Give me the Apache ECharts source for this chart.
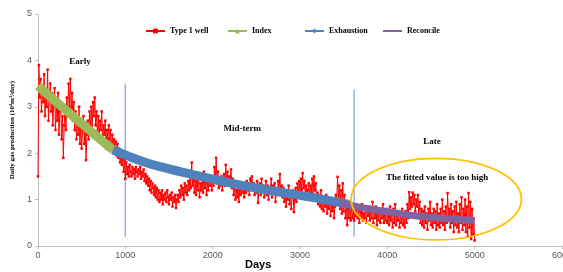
<!DOCTYPE html>
<html>
<head>
<meta charset="utf-8">
<script src="https://cdn.jsdelivr.net/npm/echarts@6/dist/echarts.min.js"></script>
<style>
  html, body { margin: 0; padding: 0; background: #fff; }
  #chart { width: 563px; height: 272px; }
</style>
</head>
<body>
<div id="chart"></div>
<script>
// daily gas rate of the type 1 well, read every 10 days (one row = 200 days)
const wellStep = 10;
const wellRate = [
  1.5, 3.9, 3.2, 3.6, 2.9, 3.4, 3.1, 3.7, 2.8, 3.3, 3.0, 3.8, 2.7, 3.2, 3.5, 2.9, 3.3, 2.6, 3.1, 3.4,
  2.5, 3.0, 2.7, 3.3, 2.4, 2.9, 3.1, 2.3, 2.8, 1.9, 2.6, 3.0, 2.5, 3.2, 2.8, 3.5, 3.0, 3.6, 2.9, 3.3,
  2.7, 3.1, 2.5, 2.9, 2.3, 2.8, 2.4, 3.0, 2.2, 2.6, 2.1, 2.5, 2.8, 2.2, 2.6, 1.85, 2.4, 2.7, 2.3, 2.9,
  2.6, 3.0, 2.5, 3.1, 2.8, 3.2, 2.6, 2.9, 2.4, 2.8, 2.3, 2.7, 2.5, 2.9, 2.2, 2.6, 2.4, 2.7, 2.1, 2.5,
  2.3, 2.6, 2.2, 2.5, 2.1, 2.4, 2.0, 2.3, 2.1, 2.25, 1.95, 2.2, 1.9, 2.1, 1.8, 2.0, 1.75, 1.9, 1.6, 1.85,
  1.45, 1.8, 1.55, 1.7, 1.5, 1.75, 1.6, 1.5, 1.7, 1.55, 1.65, 1.45, 1.7, 1.6, 1.5, 1.65, 1.55, 1.7, 1.45, 1.6,
  1.5, 1.65, 1.4, 1.55, 1.35, 1.5, 1.3, 1.45, 1.2, 1.4, 1.15, 1.35, 1.25, 1.1, 1.3, 1.05, 1.25, 1.0, 1.2, 0.95,
  1.15, 1.0, 1.2, 0.9, 1.1, 1.0, 1.15, 0.95, 1.2, 1.05, 0.9, 1.1, 1.0, 1.15, 0.85, 1.05, 0.95, 1.1, 0.82, 1.0,
  1.1, 0.95, 1.2, 1.05, 1.3, 1.1, 1.25, 1.0, 1.35, 1.15, 1.3, 1.1, 1.4, 1.2, 1.5, 1.25, 1.8, 1.3, 1.45, 1.15,
  1.4, 1.1, 1.55, 1.2, 1.45, 1.05, 1.35, 1.2, 1.5, 1.15, 1.6, 1.25, 1.45, 1.1, 1.35, 1.2, 1.5, 1.3, 1.4, 1.2,
  1.5, 1.3, 1.7, 1.4, 1.9, 1.35, 1.6, 1.25, 1.45, 1.3, 1.5, 1.2, 1.4, 1.55, 1.3, 1.75, 1.4, 1.6, 1.3, 1.5,
  1.35, 1.65, 1.25, 1.45, 1.1, 1.3, 1.0, 1.2, 1.05, 1.3, 0.95, 1.2, 1.1, 1.35, 1.15, 1.3, 1.05, 1.25, 1.15, 1.4,
  1.2, 1.35, 1.1, 1.45, 1.25, 1.5, 1.2, 1.35, 1.1, 1.3, 1.15, 1.4, 0.93, 1.2, 1.35, 1.1, 1.45, 1.2, 1.3, 1.05,
  1.25, 1.4, 1.1, 1.3, 1.0, 1.25, 1.15, 1.45, 1.05, 1.3, 1.15, 1.35, 0.95, 1.2, 1.1, 1.4, 1.2, 1.55, 1.1, 1.3,
  1.05, 1.25, 0.95, 1.2, 0.85, 1.1, 1.0, 1.3, 0.9, 1.15, 0.8, 1.05, 1.2, 0.73, 1.0, 1.25, 0.95, 1.35, 1.1, 1.4,
  1.15, 1.45, 1.2, 1.57, 1.25, 1.4, 1.1, 1.3, 1.0, 1.2, 1.35, 1.05, 1.3, 1.15, 1.45, 1.1, 1.5, 1.2, 1.35, 1.0,
  1.15, 0.9, 1.1, 0.85, 1.2, 0.8, 1.0, 0.75, 1.05, 0.85, 1.1, 0.7, 0.95, 0.8, 1.0, 0.65, 0.9, 0.75, 1.0, 0.6,
  0.85, 1.1, 0.9, 1.49, 1.0, 1.3, 0.8, 1.2, 0.7, 1.35, 0.75, 1.1, 0.6, 0.9, 0.45, 0.8, 0.6, 0.95, 0.55, 0.85,
  0.6, 0.8, 0.55, 0.75, 0.65, 0.85, 0.6, 0.8, 0.5, 0.75, 0.6, 0.9, 0.55, 0.7, 0.6, 0.8, 0.5, 0.75, 0.65, 0.85,
  0.55, 0.8, 0.6, 0.95, 0.5, 0.75, 0.6, 0.85, 0.45, 0.7, 0.55, 0.8, 0.5, 0.75, 0.6, 0.9, 0.5, 0.7, 0.55, 0.8,
  0.5, 0.75, 0.45, 0.85, 0.55, 0.7, 0.4, 0.8, 0.5, 0.9, 0.45, 0.65, 0.55, 0.75, 0.4, 0.7, 0.5, 0.8, 0.45, 0.65,
  0.4, 0.75, 0.5, 0.9, 0.6, 1.16, 0.8, 1.05, 0.85, 1.15, 0.9, 1.1, 0.75, 1.0, 0.85, 1.1, 0.6, 0.95, 0.5, 0.8,
  0.45, 0.75, 0.4, 0.85, 0.5, 0.7, 0.35, 0.8, 0.55, 0.95, 0.45, 0.7, 0.4, 0.8, 0.5, 0.75, 0.35, 0.9, 0.45, 0.7,
  0.4, 0.8, 0.5, 1.0, 0.45, 0.75, 0.35, 0.85, 0.5, 1.14, 0.6, 0.8, 0.4, 0.9, 0.5, 0.75, 0.3, 0.85, 0.45, 0.95,
  0.4, 0.7, 0.3, 0.9, 0.5, 1.05, 0.35, 0.8, 0.45, 1.0, 0.3, 0.85, 0.2, 1.14, 0.4, 0.95, 0.15, 0.8, 0.25, 0.6,
  0.12
];

// fitted curves [day, rate]
const indexFit = [[0, 3.45], [200, 3.12], [400, 2.8], [600, 2.48], [860, 2.07]];
const exhaustionFit = [[860, 2.07], [1000, 1.96], [1250, 1.79], [1500, 1.66], [1750, 1.55],
  [2000, 1.44], [2250, 1.34], [2500, 1.25], [2750, 1.17], [3000, 1.09], [3250, 1.01], [3550, 0.9]];
const reconcileFit = [[3450, 0.93], [3700, 0.83], [4000, 0.74], [4250, 0.67],
  [4500, 0.62], [4750, 0.58], [5000, 0.55]];

// stage dividers [day, bottom, top]
const stageLines = [[1000, 0.2, 3.5], [3620, 0.2, 3.38]];
// notes [day, rate]
const noteText = ['Early', 'Mid-term', 'Late', 'The fitted value is too high'];
const notePos = [[480, 3.97], [2340, 2.52], [4510, 2.24], [4570, 1.47]];
// ellipse [centre day, centre rate, half width in days, half height in rate]
const ringArea = [[4560, 1.01, 975, 0.88]];

const serif = '"Liberation Serif", "Times New Roman", serif';
const sans = '"Liberation Sans", Arial, sans-serif';

const wellData = wellRate.map((v, i) => [i * wellStep, v]);

const chart = echarts.init(document.getElementById('chart'));

function legendAt(name, left) {
  return {
    data: [name], left: left, top: 22, itemWidth: 19, itemHeight: 6, itemGap: 0,
    textStyle: { fontFamily: serif, fontSize: 8, fontWeight: 'bold', color: '#000' },
    lineStyle: { width: 2 }
  };
}

chart.setOption({
  animation: false,
  backgroundColor: '#fff',
  grid: { left: 38, right: 1, top: 14, bottom: 26, containLabel: false, outerBoundsMode: 'none' },
  legend: [
    legendAt('Type 1 well', 140),
    legendAt('Index', 222),
    legendAt('Exhaustion', 299),
    legendAt('Reconcile', 377)
  ],
  xAxis: {
    type: 'value', min: 0, max: 6000, interval: 1000,
    axisLine: { lineStyle: { color: '#bfbfbf' } },
    axisTick: { show: true, length: 3, lineStyle: { color: '#bfbfbf' } },
    axisLabel: { fontFamily: sans, fontSize: 9, color: '#595959', margin: 5, formatter: v => String(v) },
    splitLine: { show: false }
  },
  yAxis: {
    type: 'value', min: 0, max: 5, interval: 1,
    name: 'Daily gas production (10⁴m³/day)',
    nameLocation: 'middle', nameGap: 22,
    nameTextStyle: { fontFamily: serif, fontSize: 7, fontWeight: 'bold', color: '#000' },
    axisLine: { show: true, lineStyle: { color: '#bfbfbf' } },
    axisTick: { show: true, length: 3, lineStyle: { color: '#bfbfbf' } },
    axisLabel: { fontFamily: sans, fontSize: 9, color: '#595959', margin: 6 },
    splitLine: { show: false }
  },
  graphic: [{
    type: 'text', left: 245, top: 259,
    style: { text: 'Days', font: 'bold 11px ' + sans, fill: '#000' }
  }],
  series: [
    {
      type: 'custom', silent: true, z: 1,
      data: stageLines,
      renderItem: function (params, api) {
        const a = api.coord([api.value(0), api.value(1)]);
        const b = api.coord([api.value(0), api.value(2)]);
        return {
          type: 'line',
          shape: { x1: a[0], y1: a[1], x2: b[0], y2: b[1] },
          style: { stroke: '#95b3d7', lineWidth: 1.5 }
        };
      }
    },
    {
      name: 'Type 1 well', type: 'line', z: 2,
      data: wellData,
      showAllSymbol: true, symbol: 'rect', symbolSize: 2.5,
      itemStyle: { color: '#ff0000' },
      lineStyle: { color: '#ff0000', width: 1 }
    },
    {
      name: 'Index', type: 'line', z: 3, smooth: true,
      data: indexFit, symbol: 'triangle', showSymbol: false,
      itemStyle: { color: '#9bbb59' },
      lineStyle: { color: '#9bbb59', width: 9 }
    },
    {
      name: 'Exhaustion', type: 'line', z: 3, smooth: true,
      data: exhaustionFit, symbol: 'diamond', showSymbol: false,
      itemStyle: { color: '#4f81bd' },
      lineStyle: { color: '#4f81bd', width: 9 }
    },
    {
      name: 'Reconcile', type: 'line', z: 4, smooth: true,
      data: reconcileFit, symbol: 'path://M0,0L10,10M10,0L0,10', showSymbol: false,
      itemStyle: { color: '#8064a2', borderColor: '#8064a2' },
      lineStyle: { color: '#8064a2', width: 7 }
    },
    {
      type: 'custom', silent: true, z: 5,
      data: ringArea,
      renderItem: function (params, api) {
        const c = api.coord([api.value(0), api.value(1)]);
        const s = api.size([api.value(2), api.value(3)]);
        return {
          type: 'ellipse',
          shape: { cx: c[0], cy: c[1], rx: s[0], ry: s[1] },
          style: { fill: 'none', stroke: '#ffc000', lineWidth: 1.8 }
        };
      }
    },
    {
      type: 'custom', silent: true, z: 6,
      data: notePos,
      renderItem: function (params, api) {
        const p = api.coord([api.value(0), api.value(1)]);
        return {
          type: 'text', x: p[0], y: p[1],
          style: {
            text: noteText[params.dataIndex],
            font: 'bold 9px ' + serif, fill: '#000',
            align: 'center', verticalAlign: 'middle'
          }
        };
      }
    }
  ]
});
</script>
</body>
</html>
